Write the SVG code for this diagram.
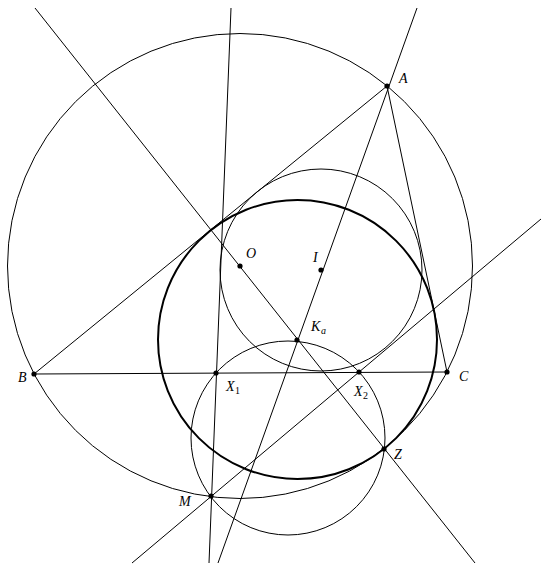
<svg xmlns="http://www.w3.org/2000/svg" width="546" height="570" viewBox="0 0 546 570">
<style>
.ln{stroke:#000;stroke-width:1;fill:none}
.thick{stroke:#000;stroke-width:2;fill:none}
.pt{fill:#000}
.lb{font-family:"Liberation Serif",serif;font-style:italic;font-size:14px;fill:#000}
.sb{font-family:"Liberation Serif",serif;font-style:italic;font-size:10px;fill:#000}
.sbn{font-family:"Liberation Serif",serif;font-size:10px;fill:#000}
</style>
<rect width="546" height="570" fill="#fff"/>
<g id="connectors">
<line class="ln" x1="35" y1="8" x2="475" y2="563"/>
<line class="ln" x1="231" y1="8" x2="209" y2="563"/>
<line class="ln" x1="417" y1="8" x2="218" y2="563"/>
<line class="ln" x1="132" y1="563" x2="541" y2="219"/>
<line class="ln" x1="34" y1="374" x2="387" y2="86"/>
<line class="ln" x1="387" y1="86" x2="447" y2="372"/>
<line class="ln" x1="34" y1="374" x2="447" y2="372"/>
</g>
<g id="circumcircle"><circle class="ln" cx="240" cy="266" r="232.5"/></g>
<g id="incircle"><circle class="ln" cx="321" cy="270" r="101"/></g>
<g id="thick-circle"><circle class="thick" cx="297.5" cy="339.5" r="139.5"/></g>
<g id="small-circle"><circle class="ln" cx="288" cy="438" r="97"/></g>
<g id="A"><circle class="pt" cx="387" cy="86" r="2.6"/><text class="lb" x="399" y="83">A</text></g>
<g id="B"><circle class="pt" cx="34" cy="374" r="2.6"/><text class="lb" x="18" y="382">B</text></g>
<g id="C"><circle class="pt" cx="447" cy="372" r="2.6"/><text class="lb" x="459" y="381">C</text></g>
<g id="O"><circle class="pt" cx="240" cy="266" r="2.6"/><text class="lb" x="246" y="258">O</text></g>
<g id="I"><circle class="pt" cx="321" cy="270" r="2.6"/><text class="lb" x="313" y="262">I</text></g>
<g id="Ka"><circle class="pt" cx="297" cy="340" r="2.6"/><text class="lb" x="311" y="331">K</text><text class="sb" x="321" y="334">a</text></g>
<g id="X1"><circle class="pt" cx="216" cy="373" r="2.6"/><text class="lb" x="226" y="391">X</text><text class="sbn" x="235" y="394">1</text></g>
<g id="X2"><circle class="pt" cx="359" cy="372" r="2.6"/><text class="lb" x="354" y="396">X</text><text class="sbn" x="363" y="399">2</text></g>
<g id="Z"><circle class="pt" cx="384" cy="449" r="2.6"/><text class="lb" x="394" y="459">Z</text></g>
<g id="M"><circle class="pt" cx="211" cy="496" r="2.6"/><text class="lb" x="179" y="506">M</text></g>
</svg>
